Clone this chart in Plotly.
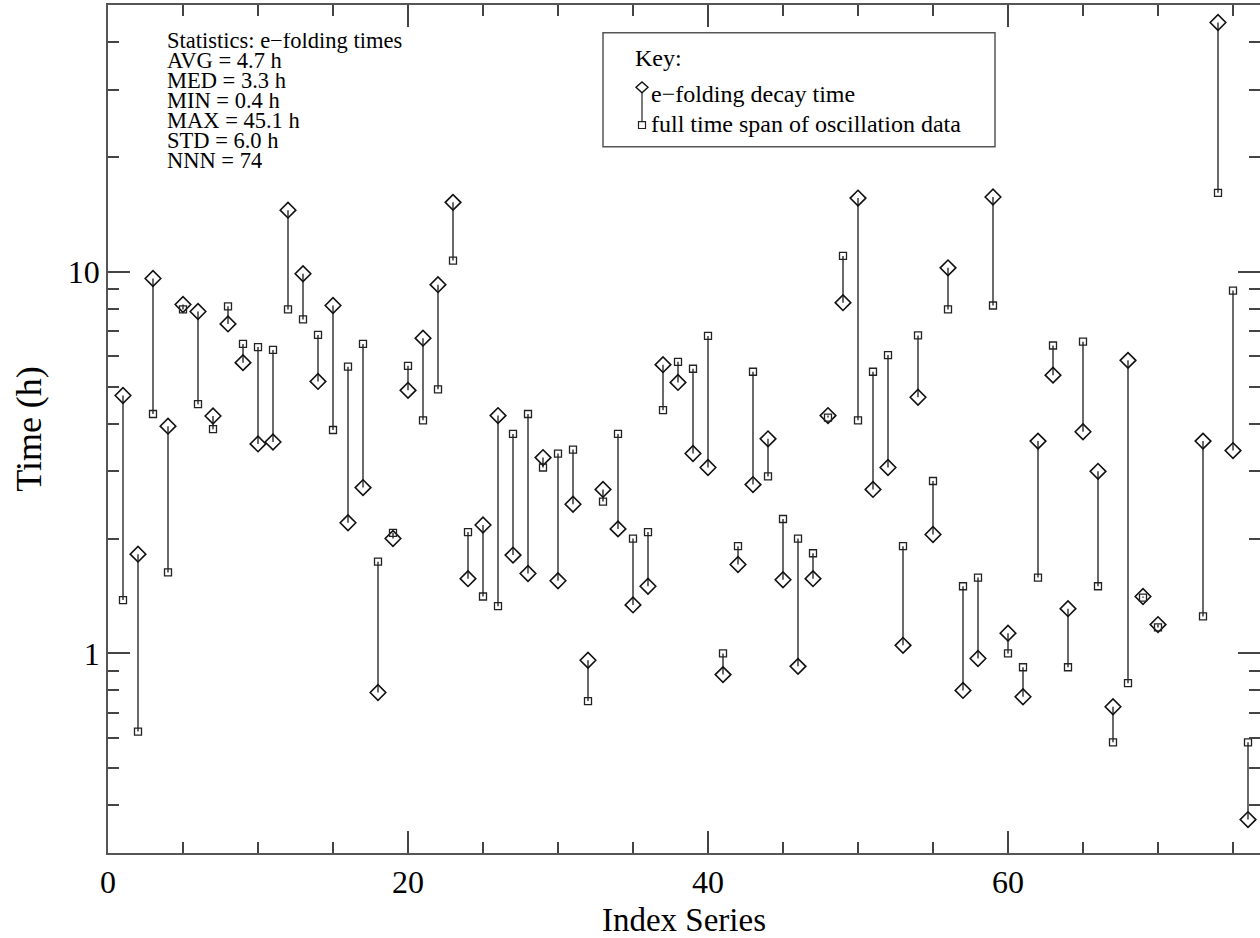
import math
import plotly.graph_objects as go

# ---- data ----
index_series = [1, 2, 3, 4, 5, 6, 7, 8, 9, 10,
                11, 12, 13, 14, 15, 16, 17, 18, 19, 20,
                21, 22, 23, 24, 25, 26, 27, 28, 29, 30,
                31, 32, 33, 34, 35, 36, 37, 38, 39, 40,
                41, 42, 43, 44, 45, 46, 47, 48, 49, 50,
                51, 52, 53, 54, 55, 56, 57, 58, 59, 60,
                61, 62, 63, 64, 65, 66, 67, 68, 69, 70,
                73, 74, 75, 76]
efold_hours = [4.74, 1.82, 9.6, 3.94, 8.21, 7.87, 4.19, 7.3, 5.78, 3.54,
               3.58, 14.5, 9.88, 5.16, 8.16, 2.2, 2.72, 0.79, 2.0, 4.89,
               6.7, 9.25, 15.2, 1.57, 2.17, 4.2, 1.81, 1.62, 3.26, 1.55,
               2.46, 0.96, 2.69, 2.12, 1.34, 1.5, 5.71, 5.13, 3.34, 3.07,
               0.88, 1.71, 2.77, 3.65, 1.56, 0.925, 1.57, 4.2, 8.3, 15.6,
               2.69, 3.07, 1.05, 4.69, 2.05, 10.24, 0.8, 0.97, 15.7, 1.13,
               0.77, 3.6, 5.36, 1.31, 3.81, 3.0, 0.725, 5.86, 1.41, 1.19,
               3.6, 45.0, 3.4, 0.367]
span_hours = [1.38, 0.624, 4.24, 1.63, 7.97, 4.5, 3.87, 8.12, 6.47, 6.35,
              6.24, 7.97, 7.5, 6.83, 3.85, 5.64, 6.47, 1.74, 2.07, 5.67,
              4.08, 4.92, 10.7, 2.08, 1.41, 1.33, 3.76, 4.24, 3.07, 3.34,
              3.42, 0.75, 2.5, 3.76, 2.0, 2.08, 4.34, 5.81, 5.57, 6.79,
              1.0, 1.91, 5.47, 2.91, 2.25, 2.0, 1.83, 4.15, 11.0, 4.08,
              5.47, 6.05, 1.91, 6.81, 2.83, 7.97, 1.5, 1.58, 8.16, 1.0,
              0.92, 1.58, 6.41, 0.92, 6.56, 1.5, 0.585, 0.836, 1.40, 1.17,
              1.25, 16.1, 8.93, 0.585]

stats_lines = ["Statistics: e\u2212folding times", "AVG = 4.7 h", "MED = 3.3 h",
               "MIN = 0.4 h", "MAX = 45.1 h", "STD = 6.0 h", "NNN = 74"]
key_title = "Key:"
efold_name = "e\u2212folding decay time"
span_name = "full time span of oscillation data"

x_major = [0, 20, 40, 60]
x_minor = [5, 10, 15, 25, 30, 35, 45, 50, 55, 65, 70, 75]
y_major = [1, 10]
y_minor = [0.4, 0.5, 0.6, 0.7, 0.8, 0.9, 2, 3, 4, 5, 6, 7, 8, 9, 20, 30, 40]

FONT = "Liberation Serif"
W, H = 1260, 938
ML, MR, MT, MB = 108, 0, 5, 78
pw, ph = W - ML - MR, H - MT - MB

def px2paper(x, y):
    return (x - ML) / pw, 1 - (y - MT) / ph

fig = go.Figure()

seg_x, seg_y = [], []
for i, a, b in zip(index_series, efold_hours, span_hours):
    seg_x += [i, i, None]
    seg_y += [a, b, None]
fig.add_trace(go.Scatter(x=seg_x, y=seg_y, mode="lines",
                         line=dict(color="#2a2a2a", width=1.4),
                         showlegend=False, hoverinfo="skip"))
fig.add_trace(go.Scatter(x=index_series, y=efold_hours, mode="markers",
                         name=efold_name, showlegend=False,
                         marker=dict(symbol="diamond-open", size=12, color="#111",
                                     line=dict(color="#111", width=1.6))))
fig.add_trace(go.Scatter(x=index_series, y=span_hours, mode="markers",
                         name=span_name, showlegend=False,
                         marker=dict(symbol="square-open", size=7, color="#222",
                                     line=dict(color="#222", width=1.3))))
# invisible carrier so the right-hand (mirror) tick axis is drawn
fig.add_trace(go.Scatter(x=index_series, y=span_hours, mode="markers", yaxis="y2",
                         marker=dict(opacity=0), showlegend=False, hoverinfo="skip"))

tick_font = dict(family=FONT, size=32, color="black")
yrange = [math.log10(0.3), math.log10(50)]

fig.update_layout(
    xaxis=dict(range=[0, pw / 15.0], tickvals=x_major,
               ticktext=[str(v) for v in x_major],
               showline=True, linecolor="#555", linewidth=1.5, mirror="ticks",
               ticks="inside", tickcolor="#444", tickwidth=1.5, ticklen=22,
               minor=dict(tickvals=x_minor, ticks="inside", ticklen=11,
                          tickcolor="#444", tickwidth=1.5, showgrid=False),
               showgrid=False, zeroline=False, tickfont=tick_font,
               title=dict(text="Index Series", font=dict(family=FONT, size=33, color="black"))),
    yaxis=dict(type="log", range=yrange, tickvals=y_major,
               ticktext=[str(v) for v in y_major],
               showline=True, linecolor="#555", linewidth=1.5, mirror=False,
               ticks="inside", tickcolor="#444", tickwidth=1.5, ticklen=22,
               minor=dict(tickvals=y_minor, ticks="inside", ticklen=11,
                          tickcolor="#444", tickwidth=1.5, showgrid=False),
               showgrid=False, zeroline=False, tickfont=tick_font,
               title=dict(text="Time (h)", font=dict(family=FONT, size=36, color="black"))),
    yaxis2=dict(type="log", range=yrange, overlaying="y", side="right",
                tickvals=y_major, showticklabels=False, showline=False,
                ticks="inside", tickcolor="#444", tickwidth=1.5, ticklen=22,
                minor=dict(tickvals=y_minor, ticks="inside", ticklen=11,
                           tickcolor="#444", tickwidth=1.5, showgrid=False),
                showgrid=False, zeroline=False),
    width=W, height=H,
    margin=dict(l=ML, r=MR, t=MT, b=MB),
    plot_bgcolor="white", paper_bgcolor="white",
    showlegend=False,
)

# statistics block (tightly spaced lines as in the reference)
for k, line in enumerate(stats_lines):
    xp, yp = px2paper(166, 43 + 20.2 * k)
    fig.add_annotation(x=xp, y=yp, xref="paper", yref="paper", text=line,
                       showarrow=False, xanchor="left", yanchor="middle",
                       height=20, valign="bottom", borderpad=0,
                       font=dict(family=FONT, size=22.5, color="black"))

# key box
x0, y0 = px2paper(603, 33)
x1, y1 = px2paper(995, 148)
fig.add_shape(type="rect", xref="paper", yref="paper", x0=x0, y0=y1, x1=x1, y1=y0,
              line=dict(color="#555", width=1.5), fillcolor="rgba(0,0,0,0)")
kx, ky = px2paper(633, 58)
fig.add_annotation(x=kx, y=ky, xref="paper", yref="paper", text=key_title,
                   showarrow=False, xanchor="left", yanchor="middle",
                   font=dict(family=FONT, size=24, color="black"))
for name, ty in [(efold_name, 95), (span_name, 125)]:
    tx, typ = px2paper(649, ty)
    fig.add_annotation(x=tx, y=typ, xref="paper", yref="paper", text=name,
                       showarrow=False, xanchor="left", yanchor="middle",
                       font=dict(family=FONT, size=24, color="black"))
# key glyphs: diamond, connector, square
gx, gy = px2paper(642, 88)
dx, dy = 6 / pw, 5.5 / ph
fig.add_shape(type="path", xref="paper", yref="paper",
              path=f"M {gx-dx},{gy} L {gx},{gy+dy} L {gx+dx},{gy} L {gx},{gy-dy} Z",
              line=dict(color="#111", width=1.4))
sx, sy = px2paper(642, 126)
fig.add_shape(type="line", xref="paper", yref="paper", x0=gx, y0=gy - dy, x1=sx, y1=sy + 3.5 / ph,
              line=dict(color="#333", width=1.3))
fig.add_shape(type="rect", xref="paper", yref="paper",
              x0=sx - 3.5 / pw, x1=sx + 3.5 / pw, y0=sy - 3.5 / ph, y1=sy + 3.5 / ph,
              line=dict(color="#222", width=1.2))

fig.write_html("out.html")
